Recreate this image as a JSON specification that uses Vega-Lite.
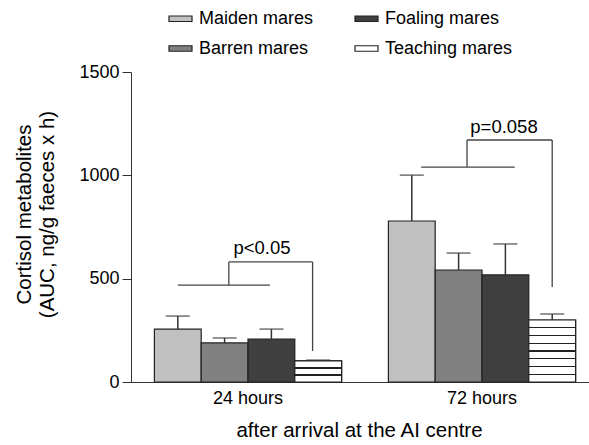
{
  "$schema": "https://vega.github.io/schema/vega-lite/v6.json",
  "width": 468,
  "height": 310,
  "autosize": {"type": "none"},
  "padding": {"left": 131, "top": 72, "right": 0, "bottom": 63},
  "background": "white",
  "config": {
    "view": {"stroke": null},
    "font": "Liberation Sans",
    "axis": {"grid": false, "domainColor": "#333", "tickColor": "#333", "labelColor": "black", "titleColor": "black", "titleFontWeight": "normal", "labelFont": "Liberation Sans", "titleFont": "Liberation Sans"}
  },
  "datasets": {
    "bars": [
      {"time": "24 hours", "group": "Maiden mares", "mean": 256, "upper": 319},
      {"time": "24 hours", "group": "Barren mares", "mean": 189, "upper": 213},
      {"time": "24 hours", "group": "Foaling mares", "mean": 208, "upper": 256},
      {"time": "24 hours", "group": "Teaching mares", "mean": 102, "upper": 106},
      {"time": "72 hours", "group": "Maiden mares", "mean": 779, "upper": 1001},
      {"time": "72 hours", "group": "Barren mares", "mean": 542, "upper": 624},
      {"time": "72 hours", "group": "Foaling mares", "mean": 518, "upper": 668},
      {"time": "72 hours", "group": "Teaching mares", "mean": 300, "upper": 329}
    ],
    "brackets": [
      {"x": 1.0, "x2": 2.97, "y": 469, "y2": 469},
      {"x": 2.09, "x2": 2.09, "y": 469, "y2": 581},
      {"x": 2.09, "x2": 3.88, "y": 581, "y2": 581},
      {"x": 3.88, "x2": 3.88, "y": 581, "y2": 150},
      {"x": 6.2, "x2": 8.2, "y": 1040, "y2": 1040},
      {"x": 7.18, "x2": 7.18, "y": 1040, "y2": 1171},
      {"x": 7.18, "x2": 9.0, "y": 1171, "y2": 1171},
      {"x": 9.0, "x2": 9.0, "y": 1171, "y2": 460}
    ],
    "pvals": [
      {"x": 2.8, "y": 648, "label": "p<0.05"},
      {"x": 7.97, "y": 1234, "label": "p=0.058"}
    ]
  },
  "layer": [
    {
      "data": {"name": "bars"},
      "encoding": {
        "x": {
          "field": "time", "type": "nominal",
          "scale": {"domain": ["24 hours", "72 hours"], "paddingInner": 0.2, "paddingOuter": 0.1},
          "axis": {"title": "after arrival at the AI centre", "labelAngle": 0, "ticks": false, "labelPadding": 7, "titlePadding": 13, "labelFontSize": 18, "titleFontSize": 20.5, "titleX": 228}
        },
        "xOffset": {
          "field": "group", "type": "nominal",
          "scale": {"domain": ["Maiden mares", "Barren mares", "Foaling mares", "Teaching mares"], "paddingInner": 0, "paddingOuter": 0}
        }
      },
      "layer": [
        {
          "mark": {"type": "bar", "stroke": "#222", "strokeWidth": 1.2},
          "encoding": {
            "y": {
              "field": "mean", "type": "quantitative",
              "scale": {"domain": [0, 1500], "nice": false},
              "axis": {"values": [0, 500, 1000, 1500], "format": "d", "tickSize": 9, "labelPadding": 3, "labelFontSize": 18, "title": ["Cortisol metabolites", "(AUC, ng/g faeces x h)"], "titleFontSize": 20.5, "titleLineHeight": 23, "titlePadding": 21, "titleY": 142}
            },
            "color": {
              "field": "group", "type": "nominal",
              "scale": {"domain": ["Maiden mares", "Barren mares", "Foaling mares", "Teaching mares"], "range": ["#c0c0c0", "#808080", "#404040", "#ffffff"]},
              "legend": {"orient": "none", "legendX": 37, "legendY": -66, "columns": 2, "title": null, "labelFontSize": 18, "labelColor": "black", "symbolType": "M-1,-0.24H1V0.24H-1Z", "symbolSize": 529, "symbolStrokeColor": "#222", "symbolStrokeWidth": 1.2, "symbolOpacity": 1, "columnPadding": 38, "rowPadding": 8, "labelOffset": 6}
            }
          }
        },
        {
          "transform": [{"filter": "datum.time === '24 hours' && datum.group === 'Teaching mares'"}],
          "mark": {"type": "bar", "stroke": "#222", "strokeWidth": 1.2, "fill": {"gradient": "linear", "x1": 0, "y1": 0, "x2": 0, "y2": 1, "stops": [
            {"offset": 0, "color": "#ffffff"},
            {"offset": 0.303, "color": "#ffffff"}, {"offset": 0.303, "color": "#222"}, {"offset": 0.363, "color": "#222"}, {"offset": 0.363, "color": "#ffffff"},
            {"offset": 0.637, "color": "#ffffff"}, {"offset": 0.637, "color": "#222"}, {"offset": 0.697, "color": "#222"}, {"offset": 0.697, "color": "#ffffff"},
            {"offset": 1, "color": "#ffffff"}
          ]}},
          "encoding": {"y": {"field": "mean", "type": "quantitative"}}
        },
        {
          "transform": [{"filter": "datum.time === '72 hours' && datum.group === 'Teaching mares'"}],
          "mark": {"type": "bar", "stroke": "#222", "strokeWidth": 1.2, "fill": {"gradient": "linear", "x1": 0, "y1": 0, "x2": 0, "y2": 1, "stops": [
            {"offset": 0, "color": "#ffffff"},
            {"offset": 0.113, "color": "#ffffff"}, {"offset": 0.113, "color": "#222"}, {"offset": 0.137, "color": "#222"}, {"offset": 0.137, "color": "#ffffff"},
            {"offset": 0.238, "color": "#ffffff"}, {"offset": 0.238, "color": "#222"}, {"offset": 0.262, "color": "#222"}, {"offset": 0.262, "color": "#ffffff"},
            {"offset": 0.363, "color": "#ffffff"}, {"offset": 0.363, "color": "#222"}, {"offset": 0.387, "color": "#222"}, {"offset": 0.387, "color": "#ffffff"},
            {"offset": 0.488, "color": "#ffffff"}, {"offset": 0.488, "color": "#222"}, {"offset": 0.512, "color": "#222"}, {"offset": 0.512, "color": "#ffffff"},
            {"offset": 0.613, "color": "#ffffff"}, {"offset": 0.613, "color": "#222"}, {"offset": 0.637, "color": "#222"}, {"offset": 0.637, "color": "#ffffff"},
            {"offset": 0.738, "color": "#ffffff"}, {"offset": 0.738, "color": "#222"}, {"offset": 0.762, "color": "#222"}, {"offset": 0.762, "color": "#ffffff"},
            {"offset": 0.863, "color": "#ffffff"}, {"offset": 0.863, "color": "#222"}, {"offset": 0.887, "color": "#222"}, {"offset": 0.887, "color": "#ffffff"},
            {"offset": 1, "color": "#ffffff"}
          ]}},
          "encoding": {"y": {"field": "mean", "type": "quantitative"}}
        },
        {
          "mark": {"type": "rule", "color": "#333", "strokeWidth": 1.5},
          "encoding": {"y": {"field": "mean", "type": "quantitative"}, "y2": {"field": "upper"}}
        },
        {
          "mark": {"type": "tick", "color": "#333", "thickness": 1.5, "size": 24},
          "encoding": {"y": {"field": "upper", "type": "quantitative"}}
        }
      ]
    },
    {
      "layer": [
        {
          "data": {"name": "brackets"},
          "mark": {"type": "rule", "color": "#444", "strokeWidth": 1.3},
          "encoding": {
            "x": {"field": "x", "type": "quantitative", "scale": {"domain": [0, 10], "nice": false, "zero": false}, "axis": null},
            "x2": {"field": "x2"},
            "y": {"field": "y", "type": "quantitative"},
            "y2": {"field": "y2"}
          }
        },
        {
          "data": {"name": "pvals"},
          "mark": {"type": "text", "fontSize": 18.5, "align": "center", "baseline": "middle", "color": "black"},
          "encoding": {
            "x": {"field": "x", "type": "quantitative"},
            "y": {"field": "y", "type": "quantitative"},
            "text": {"field": "label"}
          }
        }
      ]
    }
  ],
  "resolve": {"scale": {"x": "independent"}, "axis": {"x": "independent"}}
}
